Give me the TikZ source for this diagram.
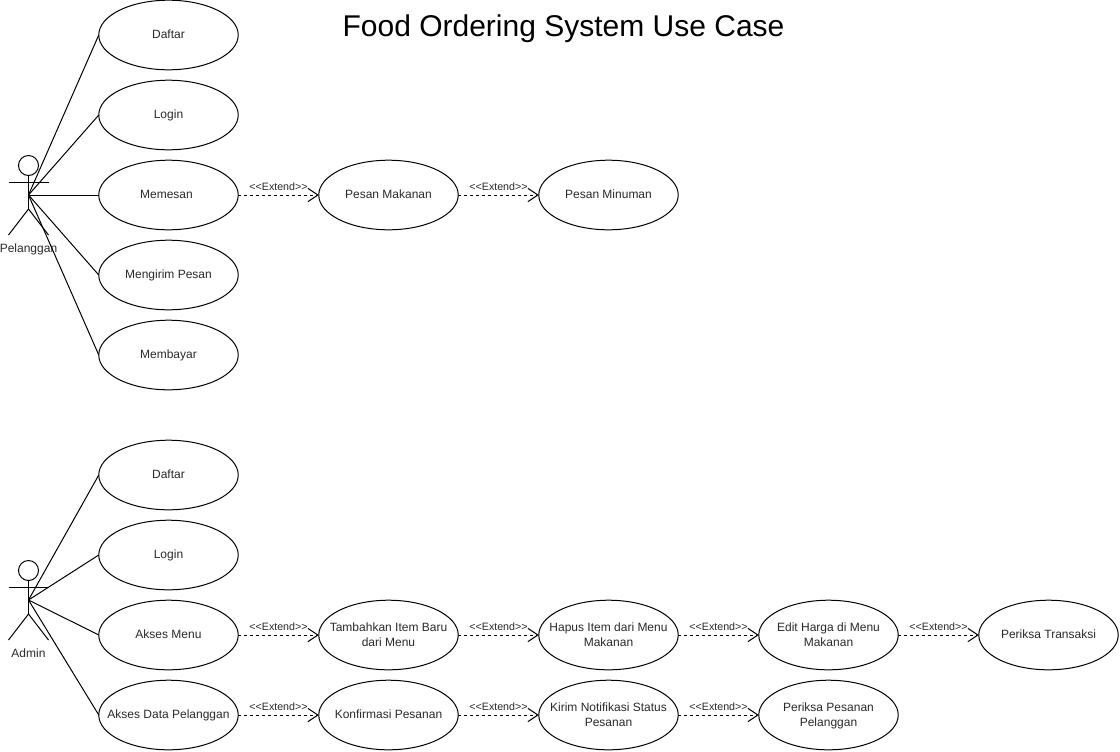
\documentclass[tikz,border=0pt]{standalone}
\usepackage{fontspec}
\setmainfont{Liberation Sans}
\usetikzlibrary{arrows.meta,shapes.geometric}
\definecolor{txt}{HTML}{2A2A2A}
\tikzset{
  uc/.style={draw=black,line width=0.75pt,ellipse,outer sep=0pt,minimum width=104.6pt,minimum height=52.2pt,inner sep=0pt,font=\fontsize{9}{11.25}\selectfont,text=txt},
  assoc/.style={draw=black,line width=0.75pt},
  ext/.style={draw=black,line width=0.75pt,dash pattern=on 2.25pt off 2.25pt,-{Straight Barb[length=7.5pt,width=10pt,line width=0.75pt]}},
  extlab/.style={font=\fontsize{8}{9}\selectfont,text=txt,inner sep=0pt},
  actorlab/.style={font=\fontsize{9}{10.5}\selectfont,text=txt,inner sep=0pt},
  actorline/.style={draw=black,line width=0.75pt}
}
\newcommand{\uct}[1]{\makebox[0pt]{\raisebox{0pt}[\dimexpr\height+1.2pt\relax]{\begin{tabular}{@{}c@{}}#1\end{tabular}}}}
\newcommand{\actorfig}[3]{% name, x, y of head centre
  \coordinate (#1) at (#2,#3+29.5);
  \draw[actorline] (#2,#3) circle[radius=10];
  \draw[actorline] (#2,#3+10) -- (#2,#3+43.5);
  \draw[actorline] (#2-20,#3+16.5) -- (#2+20,#3+16.5);
  \draw[actorline] (#2-20,#3+69.5) -- (#2,#3+43.5) -- (#2+20,#3+69.5);
}
\begin{document}
\begin{tikzpicture}[x=0.75pt,y=-0.75pt]
\useasboundingbox (0,0) rectangle (1120,751);
\fill[white] (0,0) rectangle (1120,751);
\node[font=\fontsize{22.5}{26}\selectfont,text=black,inner sep=0pt] (title) at (563.5,29) {Food Ordering System Use Case};

\actorfig{pel}{28.5}{165.5}
\actorfig{adm}{28.5}{570.5}
\node[actorlab] (pellab) at (28.5,249.5) {Pelanggan};
\node[actorlab] (admlab) at (28.5,653.5) {Admin};

\node[uc] (a1) at (168.5,35) {\uct{Daftar}};
\node[uc] (a2) at (168.5,115) {\uct{Login}};
\node[uc] (a3) at (168.5,195) {\uct{Memesan\kern3pt\mbox{}}};
\node[uc] (a4) at (168.5,275) {\uct{Mengirim Pesan}};
\node[uc] (a5) at (168.5,355) {\uct{Membayar}};
\node[uc] (a6) at (388.5,195) {\uct{Pesan Makanan}};
\node[uc] (a7) at (608.5,195) {\uct{Pesan Minuman}};

\node[uc] (b1) at (168.5,475) {\uct{Daftar}};
\node[uc] (b2) at (168.5,555) {\uct{Login}};
\node[uc] (b3) at (168.5,635) {\uct{Akses Menu}};
\node[uc] (b4) at (168.5,715) {\uct{Akses Data Pelanggan}};
\node[uc] (c1) at (388.5,635) {\uct{Tambahkan Item Baru\\dari Menu}};
\node[uc] (c2) at (608.5,635) {\uct{Hapus Item dari Menu\\Makanan}};
\node[uc] (c3) at (828.5,635) {\uct{Edit Harga di Menu\\Makanan}};
\node[uc] (c4) at (1048.5,635) {\uct{Periksa Transaksi}};
\node[uc] (d1) at (388.5,715) {\uct{Konfirmasi Pesanan}};
\node[uc] (d2) at (608.5,715) {\uct{Kirim Notifikasi Status\\Pesanan}};
\node[uc] (d3) at (828.5,715) {\uct{Periksa Pesanan\\Pelanggan}};

\foreach \t in {a1,a2,a3,a4,a5} \draw[assoc] (pel) -- (\t.west);
\foreach \t in {b1,b2,b3,b4} \draw[assoc] (adm) -- (\t.west);

\foreach \s/\t/\n in {a3/a6/e1,a6/a7/e2,b3/c1/e3,c1/c2/e4,c2/c3/e5,c3/c4/e6,b4/d1/e7,d1/d2/e8,d2/d3/e9}{
  \draw[ext] (\s.east) -- (\t.west) node[extlab,pos=0.5,yshift=6.6pt] (\n) {{<}{<}Extend{>}{>}};
}
\end{tikzpicture}
\end{document}
